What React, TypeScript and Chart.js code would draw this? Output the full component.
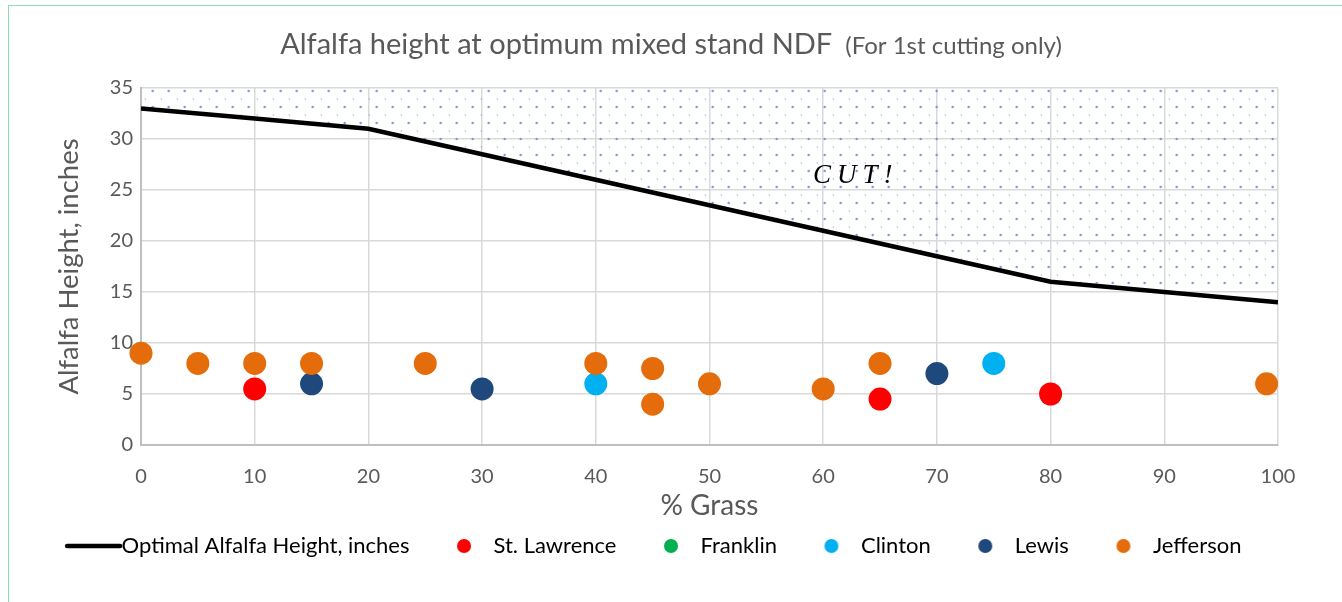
import React, { useEffect, useRef } from 'react';
import { Chart, registerables } from 'chart.js';

Chart.register(...registerables);

const FONT = 'Lato, "Open Sans", "Liberation Sans", sans-serif';
const TEXT = '#595959';

// ---- text ----
const titleMain = 'Alfalfa height at optimum mixed stand NDF';
const titleNote = '(For 1st cutting only)';
const xAxisTitle = '% Grass';
const yAxisTitle = 'Alfalfa Height, inches';
const cutText = 'CUT!';
const cutAnchorX = 62.6;
const cutAnchorY = 25.7;

// ---- ticks ----
const xTickValues = [0, 10, 20, 30, 40, 50, 60, 70, 80, 90, 100];
const yTickValues = [0, 5, 10, 15, 20, 25, 30, 35];

// ---- optimal line ----
const optimalLabel = 'Optimal Alfalfa Height, inches';
const optimalX = [0, 10, 20, 30, 40, 50, 60, 70, 80, 90, 100];
const optimalY = [33, 32, 31, 28.5, 26, 23.5, 21, 18.5, 16, 15, 14];

// ---- dotted "cut" zone lower edge ----
const cutZoneX = [0, 20, 80, 90, 100];
const cutZoneY = [33, 31, 16, 15.6, 15.6];

// ---- county observations ----
const stLawrenceX = [10, 65, 80];
const stLawrenceY = [5.5, 4.5, 5];
const franklinX: number[] = [];
const franklinY: number[] = [];
const clintonX = [40, 75];
const clintonY = [6, 8];
const lewisX = [15, 30, 70];
const lewisY = [6, 5.5, 7];
const jeffersonX = [0, 5, 10, 15, 25, 40, 45, 45, 50, 60, 65, 99];
const jeffersonY = [9, 8, 8, 8, 8, 8, 7.5, 4, 6, 5.5, 8, 6];

const pts = (xs: number[], ys: number[]) => xs.map((x, i) => ({ x, y: ys[i] }));

function makePattern(ctx: CanvasRenderingContext2D) {
  const c = document.createElement('canvas');
  c.width = 16;
  c.height = 16;
  const g = c.getContext('2d')!;
  g.fillStyle = 'rgba(100,145,212,0.85)';
  g.beginPath();
  g.arc(8.7, 11, 1.3, 0, Math.PI * 2);
  g.fill();
  g.fillStyle = 'rgba(70,108,180,0.8)';
  g.fillRect(0.8, 2.5, 1, 1);
  return ctx.createPattern(c, 'repeat')!;
}

function makeSwatch(kind: 'line' | 'dot', color: string) {
  const c = document.createElement('canvas');
  c.width = 100;
  c.height = 22;
  const g = c.getContext('2d')!;
  if (kind === 'line') {
    g.strokeStyle = color;
    g.lineWidth = 4.5;
    g.lineCap = 'round';
    g.beginPath();
    g.moveTo(37, 11);
    g.lineTo(90, 11);
    g.stroke();
  } else {
    g.fillStyle = color;
    g.beginPath();
    g.arc(62, 11, 7, 0, Math.PI * 2);
    g.fill();
  }
  return c;
}

const titlePlugin = {
  id: 'twoPartTitle',
  afterDraw(chart: any) {
    const ctx = chart.ctx as CanvasRenderingContext2D;
    ctx.save();
    ctx.fillStyle = TEXT;
    ctx.textBaseline = 'alphabetic';
    ctx.textAlign = 'left';
    const mainFont = `29px ${FONT}`;
    const noteFont = `24px ${FONT}`;
    ctx.font = mainFont;
    const w1 = ctx.measureText(titleMain).width;
    ctx.font = noteFont;
    const w2 = ctx.measureText(titleNote).width;
    const gap = 13;
    const x0 = chart.width / 2 - (w1 + gap + w2) / 2;
    const baseline = 54;
    ctx.font = mainFont;
    ctx.fillText(titleMain, x0, baseline);
    ctx.font = noteFont;
    ctx.fillText(titleNote, x0 + w1 + gap, baseline);
    ctx.restore();
  },
};

const cutPlugin = {
  id: 'cutLabel',
  afterDatasetsDraw(chart: any) {
    const ctx = chart.ctx as any;
    const x = chart.scales.x.getPixelForValue(cutAnchorX);
    const y = chart.scales.y.getPixelForValue(cutAnchorY);
    ctx.save();
    ctx.font = `italic 27px "Liberation Serif", "DejaVu Serif", serif`;
    ctx.fillStyle = '#000000';
    ctx.textBaseline = 'alphabetic';
    ctx.textAlign = 'left';
    const spacing = 6;
    ctx.letterSpacing = `${spacing}px`;
    const w = ctx.measureText(cutText).width - spacing;
    ctx.fillText(cutText, x - w / 2, y);
    ctx.restore();
  },
};

export default function App() {
  const ref = useRef<HTMLCanvasElement>(null);

  useEffect(() => {
    const canvas = ref.current!;
    const ctx = canvas.getContext('2d')!;
    const pattern = makePattern(ctx);

    const datasets: any[] = [
      { label: 'Jefferson', data: pts(jeffersonX, jeffersonY), backgroundColor: '#E46C0A', color: '#E46C0A' },
      { label: 'Lewis', data: pts(lewisX, lewisY), backgroundColor: '#1F497D', color: '#1F497D' },
      { label: 'Clinton', data: pts(clintonX, clintonY), backgroundColor: '#00B0F0', color: '#00B0F0' },
      { label: 'Franklin', data: pts(franklinX, franklinY), backgroundColor: '#00B050', color: '#00B050' },
      { label: 'St. Lawrence', data: pts(stLawrenceX, stLawrenceY), backgroundColor: '#FF0000', color: '#FF0000' },
    ].map((d) => ({
      ...d,
      type: 'scatter',
      pointRadius: 11.5,
      pointHoverRadius: 11.5,
      borderWidth: 0,
      pointBorderWidth: 0,
      clip: false,
    }));

    datasets.push({
      label: optimalLabel,
      type: 'line',
      data: pts(optimalX, optimalY),
      borderColor: '#000000',
      borderWidth: 4.5,
      pointRadius: 0,
      tension: 0,
      fill: false,
      color: '#000000',
    });

    datasets.push({
      label: 'cut zone',
      type: 'line',
      data: pts(cutZoneX, cutZoneY),
      borderWidth: 0,
      borderColor: 'rgba(0,0,0,0)',
      backgroundColor: pattern,
      pointRadius: 0,
      tension: 0,
      fill: 'end',
    });

    const legendOrder = [5, 4, 3, 2, 1, 0];
    const swatches = datasets.map((d, i) =>
      i === 5 ? makeSwatch('line', '#000000') : makeSwatch('dot', d.color || '#000')
    );

    const chart = new Chart(canvas, {
      type: 'scatter',
      data: { datasets },
      plugins: [titlePlugin, cutPlugin],
      options: {
        responsive: false,
        animation: false,
        events: [],
        layout: { padding: { top: 88, right: 64, bottom: 35, left: 13 } },
        plugins: {
          title: { display: false },
          tooltip: { enabled: false },
          legend: {
            display: true,
            position: 'bottom',
            labels: {
              usePointStyle: true,
              pointStyleWidth: 61,
              padding: 12,
              color: TEXT,
              font: { family: FONT, size: 22 },
              generateLabels: () =>
                legendOrder.map((i) => ({
                  text: datasets[i].label,
                  pointStyle: swatches[i],
                  fillStyle: datasets[i].color,
                  strokeStyle: datasets[i].color,
                  lineWidth: 0,
                  hidden: false,
                  datasetIndex: i,
                })),
            },
          },
        },
        scales: {
          x: {
            type: 'linear',
            min: 0,
            max: 100,
            afterBuildTicks: (scale: any) => {
              scale.ticks = xTickValues.map((v) => ({ value: v }));
            },
            afterFit: (scale: any) => {
              scale.height = 78;
            },
            ticks: { color: TEXT, font: { family: FONT, size: 20 }, padding: 20, maxRotation: 0 },
            grid: { color: '#D9D9D9', lineWidth: 1.5, drawTicks: false },
            border: { color: '#BFBFBF', width: 2 },
            title: {
              display: true,
              text: xAxisTitle,
              color: TEXT,
              font: { family: FONT, size: 28 },
              padding: { top: 0, bottom: 0 },
            },
          },
          y: {
            type: 'linear',
            min: 0,
            max: 35,
            afterBuildTicks: (scale: any) => {
              scale.ticks = yTickValues.map((v) => ({ value: v }));
            },
            afterFit: (scale: any) => {
              scale.width = 128;
            },
            ticks: { color: TEXT, font: { family: FONT, size: 20 }, padding: 8 },
            grid: { color: '#D9D9D9', lineWidth: 1.5, drawTicks: false },
            border: { color: '#BFBFBF', width: 2 },
            title: {
              display: true,
              text: yAxisTitle,
              color: TEXT,
              font: { family: FONT, size: 27.5 },
              padding: { top: 40, bottom: 0 },
            },
          },
        },
      } as any,
    });

    return () => chart.destroy();
  }, []);

  return (
    <div style={{ position: 'absolute', left: 0, top: 0, width: 1342, height: 602, overflow: 'hidden', background: '#fff' }}>
      <canvas ref={ref} width={1342} height={602} style={{ position: 'absolute', left: 0, top: 0 }} />
      <div
        style={{
          position: 'absolute',
          left: 8,
          top: 5,
          width: 1400,
          height: 700,
          border: '1.5px solid #8FDCAE',
          pointerEvents: 'none',
        }}
      />
    </div>
  );
}
